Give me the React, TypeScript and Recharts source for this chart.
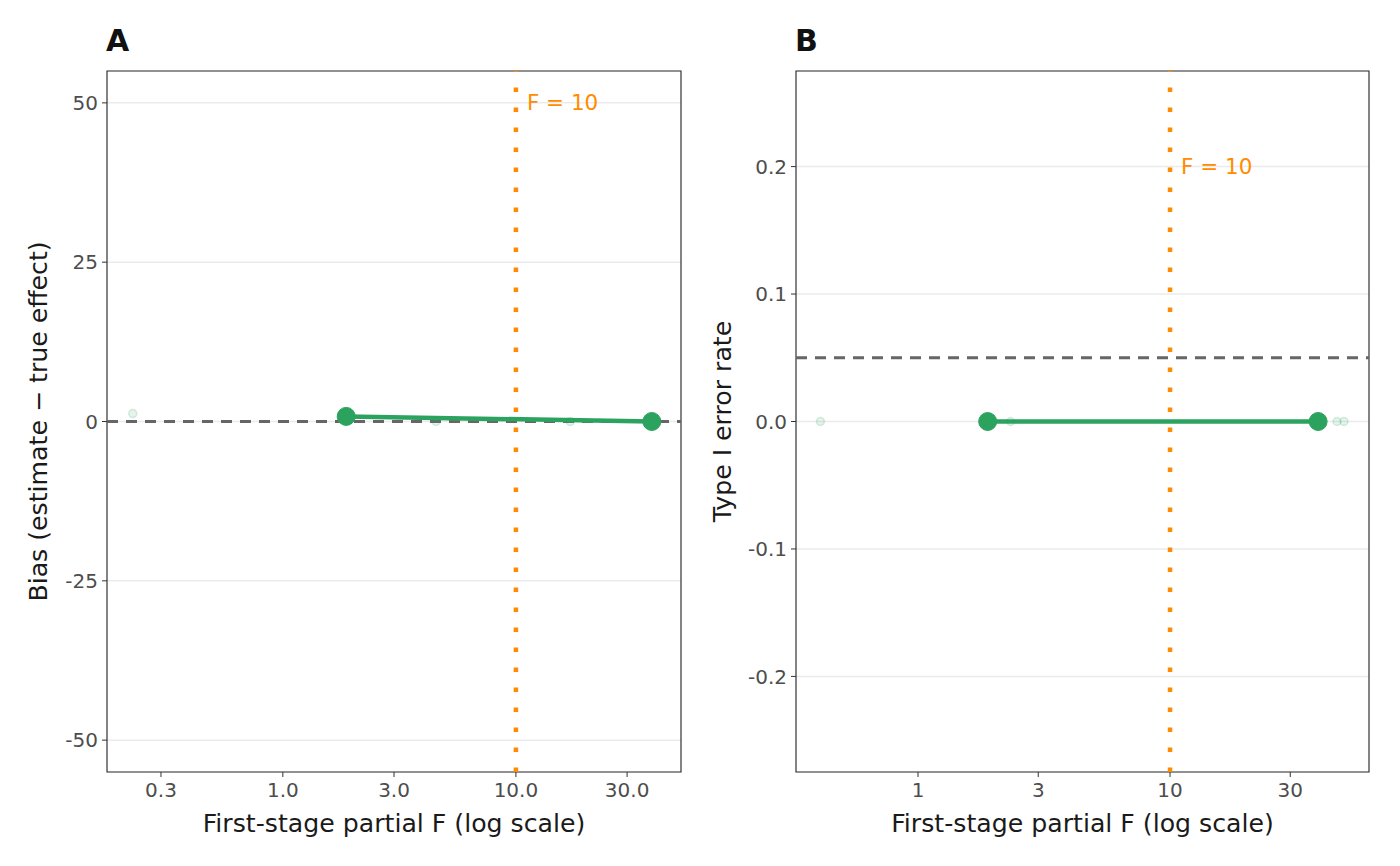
import React from 'react';
import { ComposedChart, Line, Scatter, XAxis, YAxis, CartesianGrid, ReferenceLine, ReferenceArea } from 'recharts';

// Panel A: bias
const biasMainF = [1.87, 38.3];
const biasMainVal = [0.8, 0];
const biasFaintF = [0.227, 4.54, 17.1];
const biasFaintVal = [1.25, 0, 0];
const biasXTicks = [0.3, 1, 3, 10, 30];
const biasYTicks = [-50, -25, 0, 25, 50];

// Panel B: type I error
const typeMainF = [1.89, 38.7];
const typeMainVal = [0, 0];
const typeFaintF = [0.41, 2.33, 46, 49];
const typeFaintVal = [0, 0, 0, 0];
const typeXTicks = [1, 3, 10, 30];
const typeYTicks = [-0.2, -0.1, 0, 0.1, 0.2];

const GREEN = '#2CA25F';
const ORANGE = '#FF8C00';
const FONT = '"DejaVu Sans", sans-serif';

const zip = (xs: number[], ys: number[]) => xs.map((x, i) => ({ f: x, v: ys[i] }));

type PanelProps = {
  left: number;
  tag: string;
  mainData: { f: number; v: number }[];
  faintData: { f: number; v: number }[];
  xDomain: [number, number];
  yDomain: [number, number];
  xTicks: number[];
  yTicks: number[];
  xFmt: (v: number) => string;
  yFmt: (v: number) => string;
  yLabel: string;
  yLabelX: number;
  hline: number;
  annY: number;
  yAxisWidth: number;
  marginRight: number;
};

const Panel = (p: PanelProps) => {
  const W = 700;
  const H = 866;
  return (
    <div style={{ position: 'absolute', left: p.left, top: 0, width: W, height: H }}>
      <div
        style={{
          position: 'absolute',
          left: p.yAxisWidth - 1,
          top: 23,
          fontFamily: FONT,
          fontWeight: 'bold',
          fontSize: 30,
          color: '#111',
          lineHeight: '36px',
        }}
      >
        {p.tag}
      </div>
      <ComposedChart width={W} height={H} margin={{ top: 71, right: p.marginRight, bottom: 0, left: 0 }}>
        <CartesianGrid vertical={false} stroke="#EBEBEB" strokeWidth={1.5} />
        <XAxis
          dataKey="f"
          type="number"
          scale="log"
          domain={p.xDomain}
          allowDataOverflow
          ticks={p.xTicks}
          tickFormatter={p.xFmt}
          height={94}
          tickSize={5}
          tickMargin={6}
          stroke="#333"
          tick={{ fill: '#4D4D4D', fontSize: 20, fontFamily: FONT }}
          axisLine={false}
          label={(props: any) => {
            const vb = props.viewBox;
            return (
              <text
                x={vb.x + vb.width / 2}
                y={823}
                textAnchor="middle"
                dominantBaseline="central"
                fontSize={25.2}
                fontFamily={FONT}
                fill="#1A1A1A"
              >
                First-stage partial F (log scale)
              </text>
            );
          }}
        />
        <YAxis
          dataKey="v"
          type="number"
          domain={p.yDomain}
          allowDataOverflow
          ticks={p.yTicks}
          tickFormatter={p.yFmt}
          width={p.yAxisWidth}
          tickSize={5}
          tickMargin={4}
          stroke="#333"
          tick={{ fill: '#4D4D4D', fontSize: 20, fontFamily: FONT }}
          axisLine={false}
          label={(props: any) => {
            const vb = props.viewBox;
            const cy = vb.y + vb.height / 2;
            return (
              <text
                x={p.yLabelX}
                y={cy}
                textAnchor="middle"
                dominantBaseline="central"
                transform={`rotate(-90, ${p.yLabelX}, ${cy})`}
                fontSize={25.2}
                fontFamily={FONT}
                fill="#1A1A1A"
              >
                {p.yLabel}
              </text>
            );
          }}
        />
        <ReferenceLine
          y={p.hline}
          stroke="#666666"
          strokeWidth={3}
          strokeDasharray="11 8"
        />
        <ReferenceLine
          x={10}
          stroke={ORANGE}
          strokeWidth={4.5}
          strokeDasharray="4.5 15.5"
        />
        <Scatter
          data={p.faintData}
          dataKey="v"
          isAnimationActive={false}
          shape={(sp: any) => (
            <circle
              cx={sp.cx}
              cy={sp.cy}
              r={4}
              fill={GREEN}
              fillOpacity={0.12}
              stroke={GREEN}
              strokeOpacity={0.18}
              strokeWidth={1.5}
            />
          )}
        />
        <Line
          data={p.mainData}
          dataKey="v"
          type="linear"
          stroke={GREEN}
          strokeWidth={4.5}
          dot={{ r: 9, fill: GREEN, stroke: GREEN, strokeWidth: 1 }}
          activeDot={false}
          isAnimationActive={false}
        />
        <ReferenceArea
          x1={p.xDomain[0]}
          x2={p.xDomain[1]}
          y1={p.yDomain[0]}
          y2={p.yDomain[1]}
          fill="none"
          stroke="#333333"
          strokeWidth={1.2}
          ifOverflow="visible"
          label={(props: any) => {
            const vb = props.viewBox;
            const lx0 = Math.log10(p.xDomain[0]);
            const lx1 = Math.log10(p.xDomain[1]);
            const ax = vb.x + ((1 - lx0) / (lx1 - lx0)) * vb.width;
            const ay = vb.y + ((p.yDomain[1] - p.annY) / (p.yDomain[1] - p.yDomain[0])) * vb.height;
            return (
              <text
                x={ax + 11}
                y={ay}
                dominantBaseline="central"
                fontSize={21.5}
                fontFamily={FONT}
                fill={ORANGE}
              >
                F = 10
              </text>
            );
          }}
        />
      </ComposedChart>
    </div>
  );
};

export default function App() {
  return (
    <div style={{ position: 'relative', width: 1400, height: 866, margin: -8, background: '#fff' }}>
      <Panel
        left={0}
        tag="A"
        mainData={zip(biasMainF, biasMainVal)}
        faintData={zip(biasFaintF, biasFaintVal)}
        xDomain={[0.176, 51.1]}
        yDomain={[-55, 55]}
        xTicks={biasXTicks}
        yTicks={biasYTicks}
        xFmt={(v: number) => v.toFixed(1)}
        yFmt={(v: number) => String(v)}
        yLabel="Bias (estimate − true effect)"
        yLabelX={38}
        hline={0}
        annY={50}
        yAxisWidth={107}
        marginRight={19}
      />
      <Panel
        left={700}
        tag="B"
        mainData={zip(typeMainF, typeMainVal)}
        faintData={zip(typeFaintF, typeFaintVal)}
        xDomain={[0.328, 61.6]}
        yDomain={[-0.275, 0.275]}
        xTicks={typeXTicks}
        yTicks={typeYTicks}
        xFmt={(v: number) => String(v)}
        yFmt={(v: number) => v.toFixed(1)}
        yLabel="Type I error rate"
        yLabelX={22}
        hline={0.05}
        annY={0.2}
        yAxisWidth={96}
        marginRight={31}
      />
    </div>
  );
}
